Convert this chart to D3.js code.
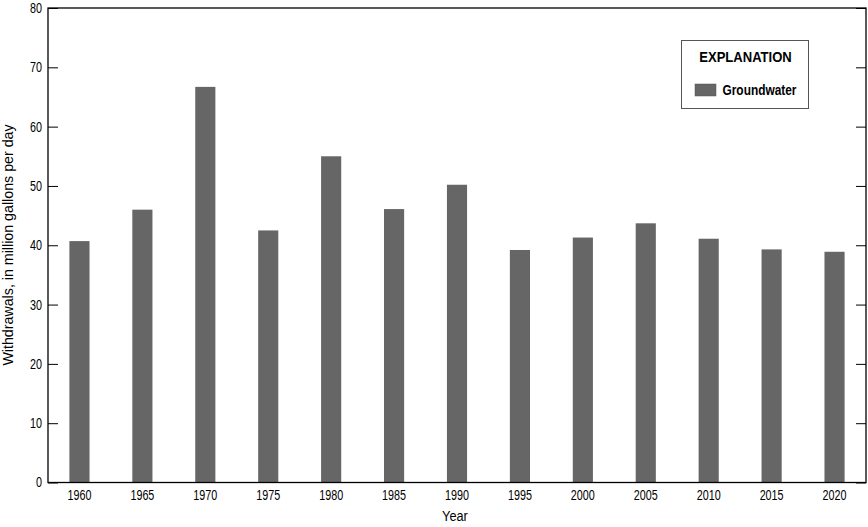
<!DOCTYPE html>
<html>
<head>
<meta charset="utf-8">
<script src="https://cdn.jsdelivr.net/npm/d3@7"></script>
<style>
  body { margin: 0; background: #fff; }
  svg text { font-family: "Liberation Sans", Arial, sans-serif; fill: #000; }
  .axis path, .axis line { stroke: #000; }
</style>
</head>
<body>
<div id="graphic"></div>
<script>
// groundwater withdrawals by year
const years = ["1960", "1965", "1970", "1975", "1980", "1985", "1990", "1995", "2000", "2005", "2010", "2015", "2020"];
const groundwater = [40.7, 46.0, 66.7, 42.5, 55.0, 46.1, 50.2, 39.2, 41.3, 43.7, 41.1, 39.3, 38.9];
const yTicks = [0, 10, 20, 30, 40, 50, 60, 70, 80];

const margin = { left: 48, right: 2, top: 8, bottom: 44.5 };
const outerWidth = 868, outerHeight = 527;
const width = outerWidth - margin.left - margin.right;
const height = outerHeight - margin.top - margin.bottom;

// no condensed font installed, so squeeze the text horizontally
function condense(sel, sx) {
  sel.each(function() {
    const t = d3.select(this);
    const x = +(t.attr("x") || 0);
    const prev = t.attr("transform") || "";
    t.attr("x", x / sx).attr("transform", `${prev} scale(${sx},1)`);
  });
}

const svg = d3.select("#graphic")
  .append("svg")
  .attr("width", outerWidth)
  .attr("height", outerHeight);

const plot = svg.append("g")
  .attr("transform", `translate(${margin.left}, ${margin.top})`);

const xScale = d3.scaleBand()
  .domain(years)
  .range([0, width])
  .paddingInner(0.68)
  .paddingOuter(0.34);

const yScale = d3.scaleLinear()
  .domain([0, 80])
  .range([height, 0]);

// bars
plot.append("g")
  .selectAll("rect")
  .data(groundwater)
  .enter()
  .append("rect")
  .attr("x", (d, i) => xScale(years[i]))
  .attr("y", d => yScale(d))
  .attr("width", xScale.bandwidth())
  .attr("height", d => height - yScale(d))
  .attr("fill", "#666666");

// frame
plot.append("rect")
  .attr("width", width)
  .attr("height", height)
  .attr("fill", "none")
  .attr("stroke", "#000")
  .attr("stroke-width", 1.3);

// left axis, ticks inside
const yAxis = d3.axisLeft(yScale)
  .tickValues(yTicks)
  .tickSizeInner(-10)
  .tickSizeOuter(0)
  .tickPadding(6);

plot.append("g")
  .attr("class", "axis yaxis")
  .call(yAxis)
  .call(g => g.select(".domain").remove())
  .selectAll("text")
  .attr("font-size", 14)
  .attr("x", -6)
  .call(condense, 0.77);

// right axis, ticks inside
const yAxisR = d3.axisRight(yScale)
  .tickValues(yTicks)
  .tickSizeInner(-10)
  .tickSizeOuter(0)
  .tickFormat("");

plot.append("g")
  .attr("class", "axis yaxisR")
  .attr("transform", `translate(${width}, 0)`)
  .call(yAxisR)
  .call(g => g.select(".domain").remove());

// bottom axis, labels only
const xAxis = d3.axisBottom(xScale)
  .tickSize(0)
  .tickPadding(7.5);

plot.append("g")
  .attr("class", "axis xaxis")
  .attr("transform", `translate(0, ${height})`)
  .call(xAxis)
  .call(g => g.select(".domain").remove())
  .selectAll("text")
  .attr("font-size", 14)
  .call(condense, 0.77);

// axis titles
svg.append("text")
  .attr("x", 455)
  .attr("y", 521)
  .attr("text-anchor", "middle")
  .attr("font-size", 15)
  .text("Year")
  .call(condense, 0.85);

svg.append("text")
  .attr("transform", `translate(13, 245) rotate(-90)`)
  .attr("text-anchor", "middle")
  .attr("font-size", 15)
  .text("Withdrawals, in million gallons per day")
  .call(condense, 0.95);

// legend
const legend = svg.append("g")
  .attr("transform", "translate(681.5, 40.5)");

legend.append("rect")
  .attr("width", 127)
  .attr("height", 68)
  .attr("fill", "#fff")
  .attr("stroke", "#555")
  .attr("stroke-width", 1);

legend.append("text")
  .attr("x", 64)
  .attr("y", 21.5)
  .attr("text-anchor", "middle")
  .attr("font-size", 15)
  .attr("font-weight", "bold")
  .text("EXPLANATION")
  .call(condense, 0.87);

legend.append("rect")
  .attr("x", 13.5)
  .attr("y", 43.5)
  .attr("width", 21)
  .attr("height", 12)
  .attr("fill", "#666666")
  .attr("stroke", "#555")
  .attr("stroke-width", 0.5);

legend.append("text")
  .attr("x", 41)
  .attr("y", 54.5)
  .attr("font-size", 14)
  .attr("font-weight", "bold")
  .text("Groundwater")
  .call(condense, 0.85);
</script>
</body>
</html>
